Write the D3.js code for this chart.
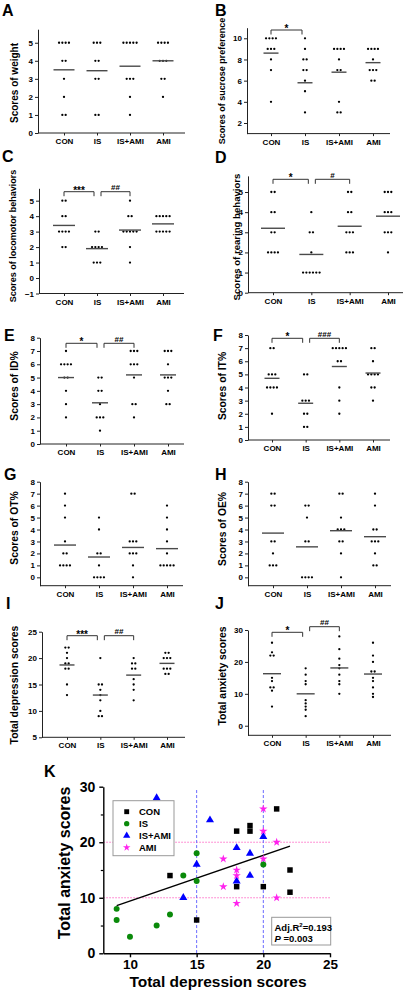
<!DOCTYPE html>
<html><head><meta charset="utf-8">
<script src="https://cdn.jsdelivr.net/npm/d3@7"></script>
<style>
body{margin:0;background:#fff}
text{font-family:"Liberation Sans",Arial,Helvetica,sans-serif;font-weight:bold;fill:#000}
</style></head>
<body><svg id="c" width="409" height="992"></svg>
<script>
// ---------- DATA ----------
const groups = ["CON", "IS", "IS+AMI", "AMI"];

const weightScores = [[5,5,5,5,4,4,3,2,1,1],[5,5,5,4,4,3,3,1,1],[5,5,5,5,5,3,3,3,2,1],[5,5,5,5,4,4,4,3,3,2]];
const weightMeans = [3.5, 3.45, 3.7, 4.0];
const sucroseScores = [[10,10,10,10,9,9,9,8,7,4],[10,9,8,8,7,7,6,5,3],[9,9,9,9,8,7,7,4,3,3],[9,9,9,9,8,7,7,7,6,6]];
const sucroseMeans = [8.6, 5.8, 6.8, 7.7];
const locomotorScores = [[5,5,4,4,3,3,3,3,2,2],[3,3,2,2,2,2,1,1,1],[5,4,4,3,3,3,3,3,2,1],[4,4,4,4,4,3,3,3,3,3]];
const locomotorMeans = [3.4, 1.9, 3.1, 3.5];
const rearingScores = [[5,5,4,4,3,3,2,2,2,2],[4,3,3,2,1,1,1,1,1,1],[5,5,4,4,3,3,3,2,2,2],[5,5,5,4,4,4,3,3,3,2]];
const rearingMeans = [3.2, 1.9, 3.3, 3.8];
const idScores = [[7,6,6,6,6,5,5,4,3,2],[5,5,4,4,3,2,2,2,1],[7,7,7,6,6,6,5,3,3,2],[7,7,7,6,5,5,5,4,3,3]];
const idMeans = [5.0, 3.1, 5.2, 5.2];
const itScores = [[7,7,5,5,5,4,4,4,4,2],[5,5,3,3,3,2,2,1,1],[7,7,7,7,7,6,6,4,3,2],[7,7,6,5,5,5,5,4,4,3]];
const itMeans = [4.7, 2.8, 5.6, 5.1];
const otScores = [[7,6,5,3,2,2,1,1,1,1],[5,4,2,2,1,0,0,0,0],[7,7,3,3,3,2,2,2,1,0],[6,5,4,3,2,1,1,1,1,1]];
const otMeans = [2.7, 1.7, 2.5, 2.4];
const oeScores = [[7,7,6,6,3,3,2,1,1,1],[6,6,5,3,3,0,0,0,0],[7,7,5,4,4,4,3,3,2,0],[7,6,4,4,3,3,3,2,1,1]];
const oeMeans = [3.7, 2.55, 3.9, 3.4];

// total depression (x) / total anxiety (y) per animal
const conDepression = [13,15,18,18,19,19,20,21,22,22];
const conAnxiety    = [14, 6,22,12,23,22,12,26,15,11];
const isDepression  = [9,9,10,12,13,14,15,15,20];
const isAnxiety     = [8,6, 3, 5, 7,14,18,13,16];
const isamiDepression = [12,14,15,16,18,18,19,19,20];
const isamiAnxiety    = [28,10,16,24,19,13,18,14,21];
const amiDepression = [17,17,18,18,18,20,20,20,21,21];
const amiAnxiety    = [17,12,15,14, 9,26,22,17,20,10];

const fitLine = [[9, 8.6], [22, 19.3]];
const depressionCutoffs = [15, 20];
const anxietyCutoffs = [10, 20];
const fitStats = {r2: "0.193", p: "0.003"};

const sigB = [["CON","IS","*"]];
const sigC = [["CON","IS","***"],["IS","IS+AMI","##"]];
const sigD = [["CON","IS","*"],["IS","IS+AMI","#"]];
const sigE = [["CON","IS","*"],["IS","IS+AMI","##"]];
const sigF = [["CON","IS","*"],["IS","IS+AMI","###"]];
const sigI = [["CON","IS","***"],["IS","IS+AMI","##"]];
const sigJ = [["CON","IS","*"],["IS","IS+AMI","##"]];

// ---------- DRAW ----------
const svg = d3.select("#c");
const depressionScores = [conDepression, isDepression, isamiDepression, amiDepression];
const anxietyScores = [conAnxiety, isAnxiety, isamiAnxiety, amiAnxiety];

const panels = [
 {L:"A", lx:2, ly:16, data:weightScores, means:weightMeans, title:"Scores of weight", tx:14, ty:83, tf:10,
  xr:[38,185], cx:[64,163], yd:[0,5.75], yr:[133,29.2], ticks:[0,1,2,3,4,5], ml:21, sig:[], st:[]},
 {L:"B", lx:215, ly:16, data:sucroseScores, means:sucroseMeans, title:"Scores of sucrose preference", tx:222, ty:81, tf:9,
  xr:[247,390], cx:[271,373], yd:[1,11], yr:[133.6,27.7], ticks:[2,4,6,8,10], ml:15, sig:sigB, st:[30]},
 {L:"C", lx:2, ly:162, data:locomotorScores, means:locomotorMeans, title:"Scores of locomotor behaviors", tx:13, ty:236, tf:9,
  xr:[39,184], cx:[64,163], yd:[-1,5.8], yr:[293.5,188.3], ticks:[-1,0,1,2,3,4,5], ml:22, sig:sigC, st:[191.7,191.7]},
 {L:"D", lx:215, ly:163, data:rearingScores, means:rearingMeans, title:"Scores of rearing behaviors", tx:236, ty:237, tf:9.6,
  xr:[248,403], cx:[273,388], yd:[0,5.8], yr:[292.7,175.9], ticks:[0,1,2,3,4,5], ml:24, sig:sigD, st:[179.3,179.3]},
 {L:"E", lx:4, ly:341, data:idScores, means:idMeans, title:"Scores of ID%", tx:14, ty:386, tf:10.3,
  xr:[40,184], cx:[66,168], yd:[0,8], yr:[444,337.7], ticks:[0,1,2,3,4,5,6,7,8], ml:16, sig:sigE, st:[343.3,343.3]},
 {L:"F", lx:213, ly:341, data:itScores, means:itMeans, title:"Scores of IT%", tx:222, ty:386, tf:10.3,
  xr:[248,390], cx:[272,373], yd:[0,8], yr:[440,335], ticks:[0,1,2,3,4,5,6,7,8], ml:15, sig:sigF, st:[338.3,338.3]},
 {L:"G", lx:4, ly:480, data:otScores, means:otMeans, title:"Scores of OT%", tx:14, ty:528, tf:10.3,
  xr:[40,183], cx:[65,167], yd:[-0.7,8], yr:[585.7,481.7], ticks:[0,1,2,3,4,5,6,7,8], ml:22, sig:[], st:[]},
 {L:"H", lx:215, ly:480, data:oeScores, means:oeMeans, title:"Scores of OE%", tx:222, ty:529, tf:10.3,
  xr:[248,391], cx:[273,375], yd:[-0.7,8], yr:[585.7,481.7], ticks:[0,1,2,3,4,5,6,7,8], ml:22, sig:[], st:[]},
 {L:"I", lx:6, ly:609, data:depressionScores, means:depressionScores.map(d=>d3.mean(d)), title:"Total depression scores", tx:14, ty:685, tf:10.4,
  xr:[42,185], cx:[67,167], yd:[5,25], yr:[737.3,631.7], ticks:[5,10,15,20,25], ml:15, sig:sigI, st:[635.7,635.7]},
 {L:"J", lx:215, ly:609, data:anxietyScores, means:anxietyScores.map(d=>d3.mean(d)), title:"Total anxiety scores", tx:222, ty:676, tf:10.4,
  xr:[248,391], cx:[272,373], yd:[-3,30], yr:[735.3,630], ticks:[0,10,20,30], ml:18, sig:sigJ, st:[632.3,626.7]}
];

function drawPanel(p){
  const g = svg.append("g");
  const x = d3.scalePoint().domain(groups).range(p.cx);
  const y = d3.scaleLinear().domain(p.yd).range(p.yr);
  // y axis
  const ya = g.append("g").attr("transform",`translate(${p.xr[0]},0)`)
    .call(d3.axisLeft(y).tickValues(p.ticks).tickSize(3).tickSizeOuter(0).tickPadding(2).tickFormat(d3.format("d")));
  ya.select(".domain").attr("stroke","#222");
  ya.selectAll(".tick line").attr("stroke","#222");
  ya.selectAll("text").attr("font-size",8).attr("font-family",null);
  // x axis
  const y0 = y(p.yd[0]);
  g.append("line").attr("x1",p.xr[0]).attr("x2",p.xr[1]).attr("y1",y0).attr("y2",y0).attr("stroke","#222");
  const xa = g.append("g").attr("transform",`translate(0,${y0})`)
    .call(d3.axisBottom(x).tickSize(2.5).tickSizeOuter(0).tickPadding(3));
  xa.select(".domain").remove();
  xa.selectAll(".tick line").attr("stroke","#222");
  xa.selectAll("text").attr("font-size",8).attr("font-family",null);
  // dots
  p.data.forEach((vals,i)=>{
    const cnt = d3.rollup(vals, v=>v.length, d=>d);
    const seen = new Map();
    vals.forEach(v=>{
      const n = cnt.get(v), k = seen.get(v)||0; seen.set(v,k+1);
      g.append("circle").attr("cx", x(groups[i]) + (k-(n-1)/2)*3.3).attr("cy", y(v))
        .attr("r",1.15).attr("fill","#000");
    });
    const m = p.means[i];
    g.append("line").attr("x1",x(groups[i])-p.ml/2).attr("x2",x(groups[i])+p.ml/2)
      .attr("y1",y(m)).attr("y2",y(m)).attr("stroke","#4a4a4a").attr("stroke-width",1.4);
  });
  // significance brackets
  p.sig.forEach((s,j)=>{
    const a = groups.indexOf(s[0]), b = groups.indexOf(s[1]);
    const x1 = x(s[0]) + (a===1?4:0), x2 = x(s[1]) - (b===1?3:0);
    const t = p.st[j];
    g.append("path").attr("d",`M${x1},${t+4.5}V${t}H${x2}V${t+4.5}`).attr("fill","none").attr("stroke","#333").attr("stroke-width",1);
    const isHash = s[2].includes("#");
    g.append("text").attr("x",(x1+x2)/2).attr("y", isHash ? t-1.5 : t+2)
      .attr("text-anchor","middle").attr("font-size",isHash?8:10).text(s[2]);
  });
  // title & letter
  g.append("text").attr("transform",`translate(${p.tx},${p.ty}) rotate(-90)`).attr("text-anchor","middle")
    .attr("dominant-baseline","central").attr("font-size",p.tf).text(p.title);
  g.append("text").attr("x",p.lx).attr("y",p.ly).attr("font-size",16).text(p.L);
}
panels.forEach(drawPanel);

// ---------- PANEL K ----------
const kg = svg.append("g");
const kx = d3.scaleLinear().domain([8,25]).range([103.3,330]);
const ky = d3.scaleLinear().domain([0,30]).range([953.3,786.7]);

anxietyCutoffs.forEach(v=>{
  kg.append("line").attr("x1",kx(8)).attr("x2",kx(25)).attr("y1",ky(v)).attr("y2",ky(v))
    .attr("stroke","#ff6fc8").attr("stroke-width",1).attr("stroke-dasharray","1.5,1.5");
});
depressionCutoffs.forEach(v=>{
  kg.append("line").attr("x1",kx(v)).attr("x2",kx(v)).attr("y1",ky(29.4)).attr("y2",ky(0))
    .attr("stroke","#6a6aff").attr("stroke-width",1).attr("stroke-dasharray","3,2");
});

// axes
const kya = kg.append("g").attr("transform",`translate(${kx(8)},0)`)
  .call(d3.axisLeft(ky).tickValues([0,10,20,30]).tickSize(4).tickSizeOuter(0).tickPadding(4).tickFormat(d3.format("d")));
kya.selectAll("text").attr("font-size",14).attr("font-family",null);
kya.selectAll("path,line").attr("stroke","#000").attr("stroke-width",1.4);
kg.append("g").attr("transform",`translate(${kx(8)},0)`)
  .call(d3.axisLeft(ky).tickValues([5,15,25]).tickSize(2.5).tickFormat(""))
  .call(s=>{s.select(".domain").remove(); s.selectAll("line").attr("stroke","#000").attr("stroke-width",1.2);});
const kxa = kg.append("g").attr("transform",`translate(0,${ky(0)})`)
  .call(d3.axisBottom(kx).tickValues([10,15,20,25]).tickSize(4).tickSizeOuter(0).tickPadding(2).tickFormat(d3.format("d")));
kxa.selectAll("text").attr("font-size",13.5).attr("font-family",null);
kxa.selectAll("path,line").attr("stroke","#000").attr("stroke-width",1.4);

kg.append("text").attr("x",218).attr("y",987).attr("text-anchor","middle").attr("font-size",15.5).text("Total depression scores");
kg.append("text").attr("transform","translate(64,863) rotate(-90)").attr("text-anchor","middle")
  .attr("dominant-baseline","central").attr("font-size",16).text("Total anxiety scores");
kg.append("text").attr("x",44).attr("y",777).attr("font-size",16).text("K");

// fit line
kg.append("line").attr("x1",kx(fitLine[0][0])).attr("y1",ky(fitLine[0][1]))
  .attr("x2",kx(fitLine[1][0])).attr("y2",ky(fitLine[1][1])).attr("stroke","#000").attr("stroke-width",1.4);

const series = [
  {name:"CON", dep:conDepression, anx:conAnxiety, color:"#000000", sym:d3.symbolSquare, size:30},
  {name:"IS", dep:isDepression, anx:isAnxiety, color:"#0a8a0a", sym:d3.symbolCircle, size:28},
  {name:"IS+AMI", dep:isamiDepression, anx:isamiAnxiety, color:"#0000ff", sym:d3.symbolTriangle, size:28},
  {name:"AMI", dep:amiDepression, anx:amiAnxiety, color:"#ff22ee", sym:d3.symbolStar, size:22}
];
series.forEach(s=>{
  s.dep.forEach((d,i)=>{
    kg.append("path").attr("d",d3.symbol(s.sym,s.size)())
      .attr("transform",`translate(${kx(d)},${ky(s.anx[i])})`).attr("fill",s.color);
  });
});

// legend
kg.append("rect").attr("x",113).attr("y",800.7).attr("width",61).attr("height",55)
  .attr("fill","#fff").attr("stroke","#999").attr("stroke-width",1);
const legY = d3.scalePoint().domain(series.map(s=>s.name)).range([811.7,847.5]);
series.forEach(s=>{
  kg.append("path").attr("d",d3.symbol(s.sym,s.size*0.8)())
    .attr("transform",`translate(126.7,${legY(s.name)})`).attr("fill",s.color);
  kg.append("text").attr("x",139).attr("y",legY(s.name)).attr("dominant-baseline","central")
    .attr("font-size",9.5).text(s.name);
});

// stats box
kg.append("rect").attr("x",271.7).attr("y",917.3).attr("width",59).attr("height",27.7)
  .attr("fill","#fff").attr("stroke","#999").attr("stroke-width",1);
const t1 = kg.append("text").attr("x",274.5).attr("y",930.5).attr("font-size",9.5);
t1.append("tspan").text("Adj.R");
t1.append("tspan").attr("font-size",6).attr("dy",-3.5).text("2");
t1.append("tspan").attr("dy",3.5).text("=" + fitStats.r2);
const t2 = kg.append("text").attr("x",274.5).attr("y",941.7).attr("font-size",9.5);
t2.append("tspan").attr("font-style","italic").text("P");
t2.append("tspan").text(" =" + fitStats.p);
</script>
</body></html>
